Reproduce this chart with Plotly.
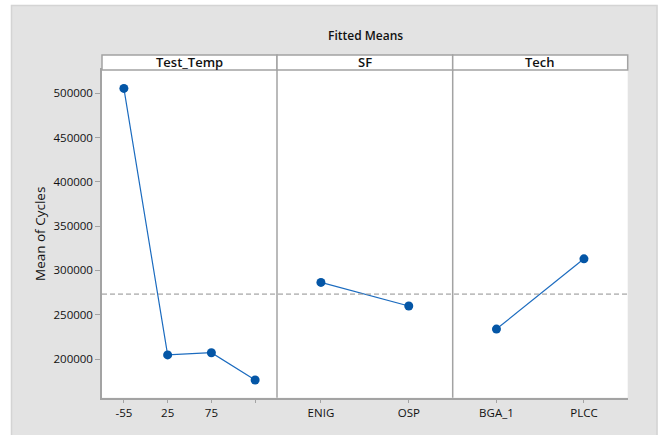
import plotly.graph_objects as go

# Fitted means for each factor
temp_levels = ["-55", "25", "75", "125"]
temp_labels = ["-55", "25", "75", ""]
temp_means = [505500, 204600, 207100, 176300]

sf_levels = ["ENIG", "OSP"]
sf_means = [286500, 259800]

tech_levels = ["BGA_1", "PLCC"]
tech_means = [233800, 313100]

panel_titles = ["Test_Temp", "SF", "Tech"]
grand_mean = 273300
y_ticks = [200000, 250000, 300000, 350000, 400000, 450000, 500000]

W, H = 659, 435
# panel edges in pixels
px_left, px_div1, px_div2, px_right = 102, 277, 452.7, 627.7
py_top, py_bottom, py_strip = 70, 397.7, 55

def fx(px):
    return px / W

def fy(py):
    return 1 - py / H

marker_color = "#0456a6"
line_color = "#1b6bbf"
frame_color = "#a3a3a3"
text_color = "#111111"
font_family = "Open Sans, Segoe UI, sans-serif"
bg_grey = "#e3e3e3"

fig = go.Figure()

panels = [
    (temp_levels, temp_labels, temp_means, px_left, px_div1),
    (sf_levels, sf_levels, sf_means, px_div1, px_div2),
    (tech_levels, tech_levels, tech_means, px_div2, px_right),
]

for i, (levels, labels, means, x0, x1) in enumerate(panels):
    n = i + 1
    xa = "x" if n == 1 else f"x{n}"
    fig.add_trace(go.Scatter(
        x=levels, y=means, xaxis=xa, yaxis="y",
        mode="lines+markers",
        line=dict(color=line_color, width=1.2),
        marker=dict(color=marker_color, size=9),
        showlegend=False, hoverinfo="x+y",
    ))
    key = "xaxis" if n == 1 else f"xaxis{n}"
    fig.layout[key] = dict(
        domain=[fx(x0), fx(x1)],
        anchor="y",
        type="category",
        categoryorder="array", categoryarray=levels,
        tickvals=levels, ticktext=labels,
        range=[-0.5, len(levels) - 0.5],
        showgrid=False, zeroline=False,
        showline=True, linecolor=frame_color, linewidth=1.5, mirror=True,
        ticks="outside", ticklen=4, tickcolor=frame_color, tickwidth=1,
        tickfont=dict(family=font_family, size=11.5, color=text_color, weight=500),
        fixedrange=True,
    )
    # strip header above each panel
    fig.add_shape(type="rect", xref="paper", yref="paper",
                  x0=fx(x0), x1=fx(x1), y0=fy(py_top), y1=fy(py_strip),
                  fillcolor="white", line=dict(color=frame_color, width=1.5),
                  layer="above")
    fig.add_annotation(xref="paper", yref="paper",
                       x=(fx(x0) + fx(x1)) / 2, y=(fy(py_top) + fy(py_strip)) / 2,
                       text=panel_titles[i], showarrow=False,
                       font=dict(family=font_family, size=13, color=text_color, weight=600),
                       xanchor="center", yanchor="middle")

fig.update_layout(
    yaxis=dict(
        domain=[fy(py_bottom), fy(py_top)],
        anchor="x",
        range=[156300, 526300],
        tickvals=y_ticks, tickformat="d",
        showgrid=False, zeroline=False,
        showline=True, linecolor=frame_color, linewidth=1.5,
        ticks="outside", ticklen=5, tickcolor=frame_color, tickwidth=1,
        tickfont=dict(family=font_family, size=11.5, color=text_color, weight=500),
        title=dict(text="Mean of Cycles", standoff=5,
                   font=dict(family=font_family, size=13.5, color=text_color, weight=500)),
        fixedrange=True,
    ),
    width=W, height=H,
    margin=dict(l=0, r=0, t=0, b=0),
    paper_bgcolor=bg_grey,
    plot_bgcolor="white",
)

# white page edges around the grey backdrop
for (ax0, ax1, ay0, ay1) in [(0, 11, 0, H), (0, W, 0, 5), (657.5, W, 0, H)]:
    fig.add_shape(type="rect", xref="paper", yref="paper",
                  x0=fx(ax0), x1=fx(ax1), y0=fy(ay1), y1=fy(ay0),
                  fillcolor="white", line=dict(width=0), layer="below")
# light edge of the backdrop
fig.add_shape(type="rect", xref="paper", yref="paper",
              x0=fx(11.5), x1=fx(657), y0=fy(436), y1=fy(5.5),
              fillcolor="rgba(0,0,0,0)", line=dict(color="#d4d4d4", width=1.5),
              layer="below")

# grand mean reference line across all panels
fig.add_shape(type="line", xref="paper", yref="y",
              x0=fx(px_left), x1=fx(px_right), y0=grand_mean, y1=grand_mean,
              line=dict(color="#8f8f8f", width=1, dash="5px,3px"), layer="above")

# dividers between panels
for xd in (px_div1, px_div2):
    fig.add_shape(type="line", xref="paper", yref="paper",
                  x0=fx(xd), x1=fx(xd), y0=fy(py_bottom), y1=fy(py_top),
                  line=dict(color=frame_color, width=1.5), layer="above")

fig.add_annotation(xref="paper", yref="paper", x=fx(365), y=fy(35),
                   text="Fitted Means", showarrow=False,
                   font=dict(family=font_family, size=12, color=text_color, weight=600),
                   xanchor="center", yanchor="middle")

fig.write_html("out.html")
